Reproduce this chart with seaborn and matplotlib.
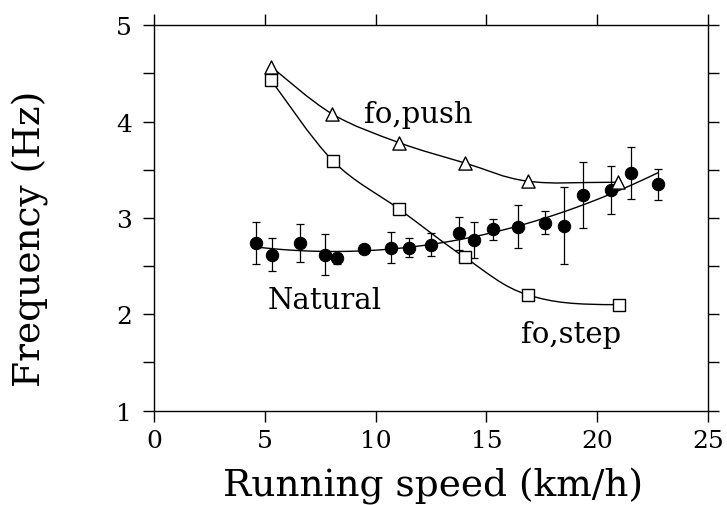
import numpy as np
import pandas as pd
import matplotlib
matplotlib.use("Agg")
import matplotlib.pyplot as plt
from matplotlib.path import Path
from matplotlib.patches import PathPatch
import seaborn as sns

# ---- data ----
push_speed = [5.28, 8.03, 11.07, 14.03, 16.89, 20.95]
push_freq = [4.57, 4.08, 3.78, 3.57, 3.38, 3.37]

step_speed = [5.28, 8.08, 11.07, 14.03, 16.89, 20.99]
step_freq = [4.43, 3.59, 3.09, 2.59, 2.20, 2.10]

nat_speed = [4.60, 5.32, 6.59, 7.71, 8.24, 9.48, 10.69, 11.52, 12.52, 13.78,
             14.43, 15.28, 16.44, 17.64, 18.51, 19.38, 20.62, 21.54, 22.73]
nat_freq = [2.74, 2.62, 2.74, 2.62, 2.58, 2.68, 2.69, 2.69, 2.72, 2.84,
            2.77, 2.88, 2.91, 2.95, 2.92, 3.24, 3.29, 3.47, 3.35]
nat_err = [0.22, 0.17, 0.20, 0.21, 0.06, 0.03, 0.16, 0.10, 0.12, 0.17,
           0.19, 0.11, 0.22, 0.12, 0.40, 0.34, 0.25, 0.27, 0.16]

x_ticks = [0, 5, 10, 15, 20, 25]
y_ticks = [1, 2, 3, 4, 5]

sns.set_style("ticks")
plt.rcParams['font.family'] = ['DejaVu Serif']
plt.rcParams['text.color'] = 'black'
plt.rcParams['axes.labelcolor'] = 'black'

fig = plt.figure(figsize=(7.27, 5.06), dpi=100)
ax = fig.add_axes([0.2118, 0.1864, 0.762, 0.762])


def smooth_path(xs, ys):
    pts = np.column_stack([xs, ys]).astype(float)
    n = len(pts)
    verts = [pts[0]]
    codes = [Path.MOVETO]
    for i in range(n - 1):
        p0 = pts[i - 1] if i > 0 else pts[i]
        p1 = pts[i]
        p2 = pts[i + 1]
        p3 = pts[i + 2] if i + 2 < n else pts[i + 1]
        c1 = p1 + (p2 - p0) / 6.0
        c2 = p2 - (p3 - p1) / 6.0
        if i == n - 2:
            # arrive flat at the last point
            c2 = np.array([p2[0] - (p2[0] - p1[0]) / 2.0, p2[1]])
        verts += [c1, c2, p2]
        codes += [Path.CURVE4] * 3
    return Path(verts, codes)


for xs, ys in [(push_speed, push_freq), (step_speed, step_freq)]:
    ax.add_patch(PathPatch(smooth_path(xs, ys), facecolor='none',
                           edgecolor='black', lw=1.0, zorder=2))

# natural: quadratic regression line + error bars
nat_df = pd.DataFrame({"speed": nat_speed, "freq": nat_freq})
sns.regplot(data=nat_df, x="speed", y="freq", order=2, ci=None,
            scatter=False, truncate=True, ax=ax,
            line_kws=dict(color='black', lw=1.0, zorder=2))
ax.errorbar(nat_speed, nat_freq, yerr=nat_err, fmt='none', ecolor='black',
            elinewidth=0.9, capsize=3, capthick=0.9, zorder=3)
sns.scatterplot(data=nat_df, x="speed", y="freq", ax=ax, color='black',
                s=80, edgecolor='black', zorder=4)

push_df = pd.DataFrame({"speed": push_speed, "freq": push_freq})
step_df = pd.DataFrame({"speed": step_speed, "freq": step_freq})
sns.scatterplot(data=push_df, x="speed", y="freq", ax=ax, marker='^',
                s=90, facecolor='white', edgecolor='black', linewidth=1.0,
                zorder=5)
sns.scatterplot(data=step_df, x="speed", y="freq", ax=ax, marker='s',
                s=70, facecolor='white', edgecolor='black', linewidth=1.0,
                zorder=5)

ax.text(9.5, 4.0, "fo,push", fontsize=21, ha='left', va='baseline')
ax.text(5.15, 2.07, "Natural", fontsize=21, ha='left', va='baseline')
ax.text(16.55, 1.71, "fo,step", fontsize=21, ha='left', va='baseline')

ax.set_xlim(0, 25)
ax.set_ylim(1, 5)
ax.set_xticks(x_ticks)
ax.set_yticks(y_ticks)
ax.set_yticks(np.arange(1.5, 5, 1.0), minor=True)
ax.tick_params(axis='both', which='both', direction='out', length=8,
               width=1.0, color='black', top=True, right=True,
               labelsize=18, labelcolor='black')
ax.tick_params(axis='x', pad=5)
ax.tick_params(axis='y', pad=8)
for s in ax.spines.values():
    s.set_visible(True)
    s.set_color('black')
    s.set_linewidth(1.0)

ax.set_xlabel("Running speed (km/h)", fontsize=27)
ax.set_ylabel("Frequency (Hz)", fontsize=27)
ax.xaxis.set_label_coords(0.504, -0.145)
ax.yaxis.set_label_coords(-0.222, 0.448)
ax.xaxis.label.set_verticalalignment('top')
ax.yaxis.label.set_verticalalignment('center')
ax.grid(False)

fig.savefig("out.png", dpi=100)
